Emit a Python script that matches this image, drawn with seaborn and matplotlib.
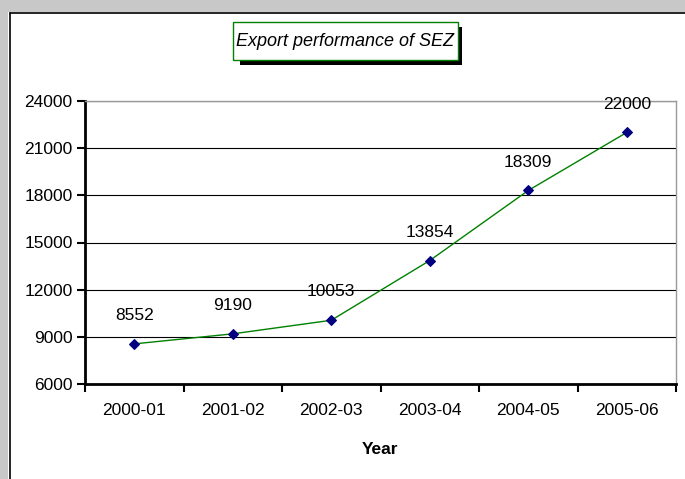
import matplotlib
matplotlib.use("Agg")
import matplotlib.pyplot as plt
import seaborn as sns
import pandas as pd
from matplotlib.patches import Rectangle

# Data
years = ["2000-01", "2001-02", "2002-03", "2003-04", "2004-05", "2005-06"]
exports = [8552, 9190, 10053, 13854, 18309, 22000]
y_ticks = [6000, 9000, 12000, 15000, 18000, 21000, 24000]

df = pd.DataFrame({"Year": years, "Exports": exports})

sns.set_style("white")
plt.rcParams["font.family"] = ["Liberation Sans", "DejaVu Sans"]
plt.rcParams["text.color"] = "black"
plt.rcParams["xtick.color"] = "black"
plt.rcParams["ytick.color"] = "black"
plt.rcParams["axes.labelcolor"] = "black"

fig = plt.figure(figsize=(6.85, 4.79), dpi=100)
fig.patch.set_facecolor("white")

# grey frame at left and top
fig.add_artist(Rectangle((0, 0), 8 / 685, 1, transform=fig.transFigure,
                         facecolor="#c8c8c8", edgecolor="none", zorder=0))
fig.add_artist(Rectangle((0, 1 - 12 / 479), 1, 12 / 479, transform=fig.transFigure,
                         facecolor="#c8c8c8", edgecolor="none", zorder=0))
fig.add_artist(plt.Line2D([10 / 685, 10 / 685], [0, 1 - 13 / 479], transform=fig.transFigure,
                          color="black", lw=1.2))
fig.add_artist(plt.Line2D([10 / 685, 1], [1 - 13 / 479, 1 - 13 / 479], transform=fig.transFigure,
                          color="black", lw=1.2))

ax = fig.add_axes([85 / 685, 1 - 384 / 479, 591 / 685, 283 / 479])
df["pos"] = range(len(years))
sns.lineplot(data=df, x="pos", y="Exports", ax=ax, color="#008000", lw=1,
             marker="D", markersize=5, markerfacecolor="#000080",
             markeredgecolor="#000080")

ax.set_xlim(-0.5, len(years) - 0.5)
ax.set_ylim(6000, 24000)
ax.set_yticks(y_ticks)
ax.set_yticklabels([str(v) for v in y_ticks], fontsize=12.5)
ax.yaxis.grid(True, color="black", lw=0.8)
ax.set_axisbelow(True)

# category labels centred, ticks at boundaries
ax.set_xticks([i - 0.5 for i in range(len(years) + 1)])
ax.set_xticklabels([])
ax.set_xticks(range(len(years)), minor=True)
ax.set_xticklabels(years, minor=True, fontsize=12.5)
ax.tick_params(axis="x", which="minor", length=0, pad=14)
ax.tick_params(axis="x", which="major", direction="out", length=6, width=1.5, color="black", bottom=True)
ax.tick_params(axis="y", direction="out", length=6, width=1.5, color="black", left=True, pad=3)

for s in ["left", "bottom"]:
    ax.spines[s].set_color("black")
    ax.spines[s].set_linewidth(2)
for s in ["top", "right"]:
    ax.spines[s].set_color("#999999")
    ax.spines[s].set_linewidth(1)

for i, v in enumerate(exports):
    ax.annotate(str(v), (i, v), xytext=(0, 15), textcoords="offset points",
                ha="center", va="bottom", fontsize=12.5)

ax.set_xlabel("Year", fontsize=12.5, fontweight="bold", labelpad=17)
ax.set_ylabel("")

# title box with shadow
fig.add_artist(Rectangle((240 / 685, 1 - 65 / 479), 222 / 685, 38 / 479, transform=fig.transFigure,
                         facecolor="black", edgecolor="none", zorder=2))
fig.add_artist(Rectangle((233 / 685, 1 - 60 / 479), 225 / 685, 38 / 479, transform=fig.transFigure,
                         facecolor="white", edgecolor="#008000", lw=1, zorder=3))
fig.text(345 / 685, 1 - 41 / 479, "Export performance of SEZ", ha="center", va="center",
         fontsize=13, style="italic", zorder=4)

fig.savefig("out.png", dpi=100)
